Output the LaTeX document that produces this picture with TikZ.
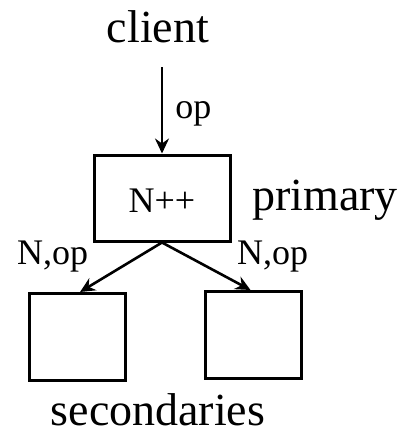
\documentclass[tikz,border=0pt]{standalone}
\usepackage{fontspec}
\setmainfont{Liberation Serif}
\usetikzlibrary{arrows.meta}

\tikzset{
  box/.style={draw,line width=3pt,minimum width=136pt,minimum height=86pt,inner sep=0pt},
  sbox/.style={draw,line width=3pt,minimum width=96pt,minimum height=87pt,inner sep=0pt},
  big/.style={font=\fontsize{46}{50}\selectfont,inner sep=0pt},
  small/.style={font=\fontsize{36}{40}\selectfont,inner sep=0pt},
  msg/.style={line width=2.6pt,-{Stealth[length=15pt,width=14pt,inset=5pt]}}
}

\begin{document}
\begin{tikzpicture}[x=1pt,y=-1pt]
  \useasboundingbox (0,0) rectangle (402,436);
  \node[big,anchor=base] (client) at (158,43) {client};
  \coordinate (C) at (162,67);
  \node[box] (prim) at (162,198) {};
  \node[small,anchor=base] (cnt) at (162,212) {N++};
  \node[big,anchor=base west] (plabel) at (252,210) {primary};
  \node[sbox] (secA) at (77,337) {};
  \node[sbox] (secB) at (253.5,335) {};
  \node[big,anchor=base] (slabel) at (158,425) {secondaries};
  \draw[msg] (C) -- (prim.north) node[small,midway,anchor=west,xshift=12pt,yshift=-4pt] (op) {op};
  \draw[msg] (prim.south) -- ([xshift=3pt]secA.north);
  \draw[msg] (prim.south) -- ([xshift=-3pt]secB.north);
  \node[small,anchor=base west] (opA) at (17,264) {N,op};
  \node[small,anchor=base west] (opB) at (237,264) {N,op};
\end{tikzpicture}
\end{document}
